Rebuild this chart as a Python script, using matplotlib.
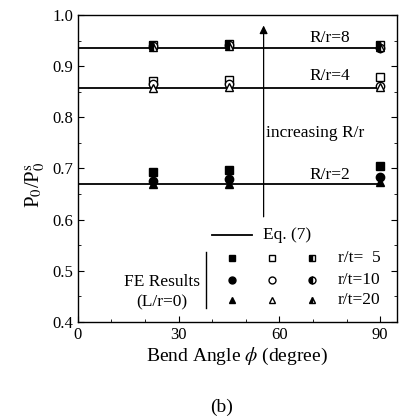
import numpy as np
import matplotlib.pyplot as plt
from matplotlib.ticker import MultipleLocator

plt.rcParams['font.family'] = ['Liberation Serif', 'DejaVu Serif']
plt.rcParams['mathtext.fontset'] = 'stix'

# bend angles used in the FE runs
phi = [22.5, 45, 90]

# Eq. (7) level for each R/r
eq_levels = {2: 0.669, 4: 0.858, 8: 0.935}

# FE results, R/r = 2 (filled markers)
rr2_t5 = [0.693, 0.697, 0.705]
rr2_t10 = [0.676, 0.679, 0.684]
rr2_t20 = [0.670, 0.670, 0.673]
# R/r = 4 (open markers)
rr4_t5 = [0.872, 0.873, 0.879]
rr4_t10 = [0.865, 0.866, 0.862]
rr4_t20 = [0.858, 0.859, 0.860]
# R/r = 8 (half filled markers)
rr8_t5 = [0.942, 0.943, 0.942]
rr8_t10 = [0.940, 0.941, 0.935]
rr8_t20 = [0.938, 0.939, 0.938]

fig = plt.figure(figsize=(3.99, 4.18), dpi=100)
ax = fig.add_axes([0.195, 0.230, 0.800, 0.734])

for lev in eq_levels.values():
    ax.plot([0, 90], [lev, lev], color='black', lw=1.3)

ms = 6
kw = dict(ls='none', color='black', ms=ms)
ax.plot(phi, rr2_t5, marker='s', **kw)
ax.plot(phi, rr2_t10, marker='o', **kw)
ax.plot(phi, rr2_t20, marker='^', **kw)
ax.plot(phi, rr4_t5, marker='s', mfc='white', **kw)
ax.plot(phi, rr4_t10, marker='o', mfc='white', **kw)
ax.plot(phi, rr4_t20, marker='^', mfc='white', **kw)
half = dict(fillstyle='left', markerfacecoloralt='white')
ax.plot(phi, rr8_t5, marker='s', **half, **kw)
ax.plot(phi, rr8_t10, marker='o', **half, **kw)
ax.plot(phi, rr8_t20, marker='^', **half, **kw)

ax.text(69, 0.955, 'R/r=8', fontsize=12.5, ha='left', va='center')
ax.text(69, 0.881, 'R/r=4', fontsize=12.5, ha='left', va='center')
ax.text(69, 0.687, 'R/r=2', fontsize=12.5, ha='left', va='center')

# arrow for increasing R/r
ax.annotate('', xy=(55.3, 0.985), xytext=(55.3, 0.60),
            arrowprops=dict(arrowstyle='-|>', color='black', lw=0.9,
                            mutation_scale=12))
ax.text(56, 0.769, 'increasing R/r', fontsize=12.5, ha='left', va='center')

# legend block drawn in axes coordinates
tr = ax.transAxes
ax.plot([0.42, 0.545], [0.283, 0.283], color='black', lw=1.3, transform=tr)
ax.text(0.58, 0.283, 'Eq. (7)', fontsize=12.5, ha='left', va='center', transform=tr)
cols = [0.482, 0.608, 0.733]
rows = [0.207, 0.136, 0.071]
shapes = ['s', 'o', '^']
for y, mk in zip(rows, shapes):
    ax.plot(cols[0], y, marker=mk, color='black', ms=5, transform=tr)
    ax.plot(cols[1], y, marker=mk, color='black', mfc='white', ms=5, transform=tr)
    ax.plot(cols[2], y, marker=mk, color='black', ms=5, fillstyle='left',
            markerfacecoloralt='white', transform=tr)
for y, lab in zip(rows, ['r/t=  5', 'r/t=10', 'r/t=20']):
    ax.text(0.815, y, lab, fontsize=12.5, ha='left', va='center', transform=tr)
ax.plot([0.402, 0.402], [0.228, 0.045], color='black', lw=1.0, transform=tr)
ax.text(0.263, 0.130, 'FE Results', fontsize=12.5, ha='center', va='center', transform=tr)
ax.text(0.263, 0.065, '(L/r=0)', fontsize=12.5, ha='center', va='center', transform=tr)

ax.set_xlim(0, 95)
ax.set_ylim(0.4, 1.0)
ax.xaxis.set_major_locator(MultipleLocator(30))
ax.xaxis.set_minor_locator(MultipleLocator(10))
ax.yaxis.set_major_locator(MultipleLocator(0.1))
ax.yaxis.set_minor_locator(MultipleLocator(0.05))
ax.tick_params(which='both', direction='in', right=True, labelsize=12)
ax.tick_params(which='major', length=4)
ax.tick_params(which='minor', length=2)
for s in ax.spines.values():
    s.set_linewidth(1.0)

ax.set_xlabel(r'Bend Angle $\phi$ (degree)', fontsize=14, labelpad=2)
ax.set_ylabel(r'P$_0$/P$_0^{\mathrm{s}}$', fontsize=15)
ax.yaxis.set_label_coords(-0.097, 0.446)
fig.text(0.556, 0.025, '(b)', fontsize=14, ha='center', va='center')

fig.savefig('out.png', dpi=100)
